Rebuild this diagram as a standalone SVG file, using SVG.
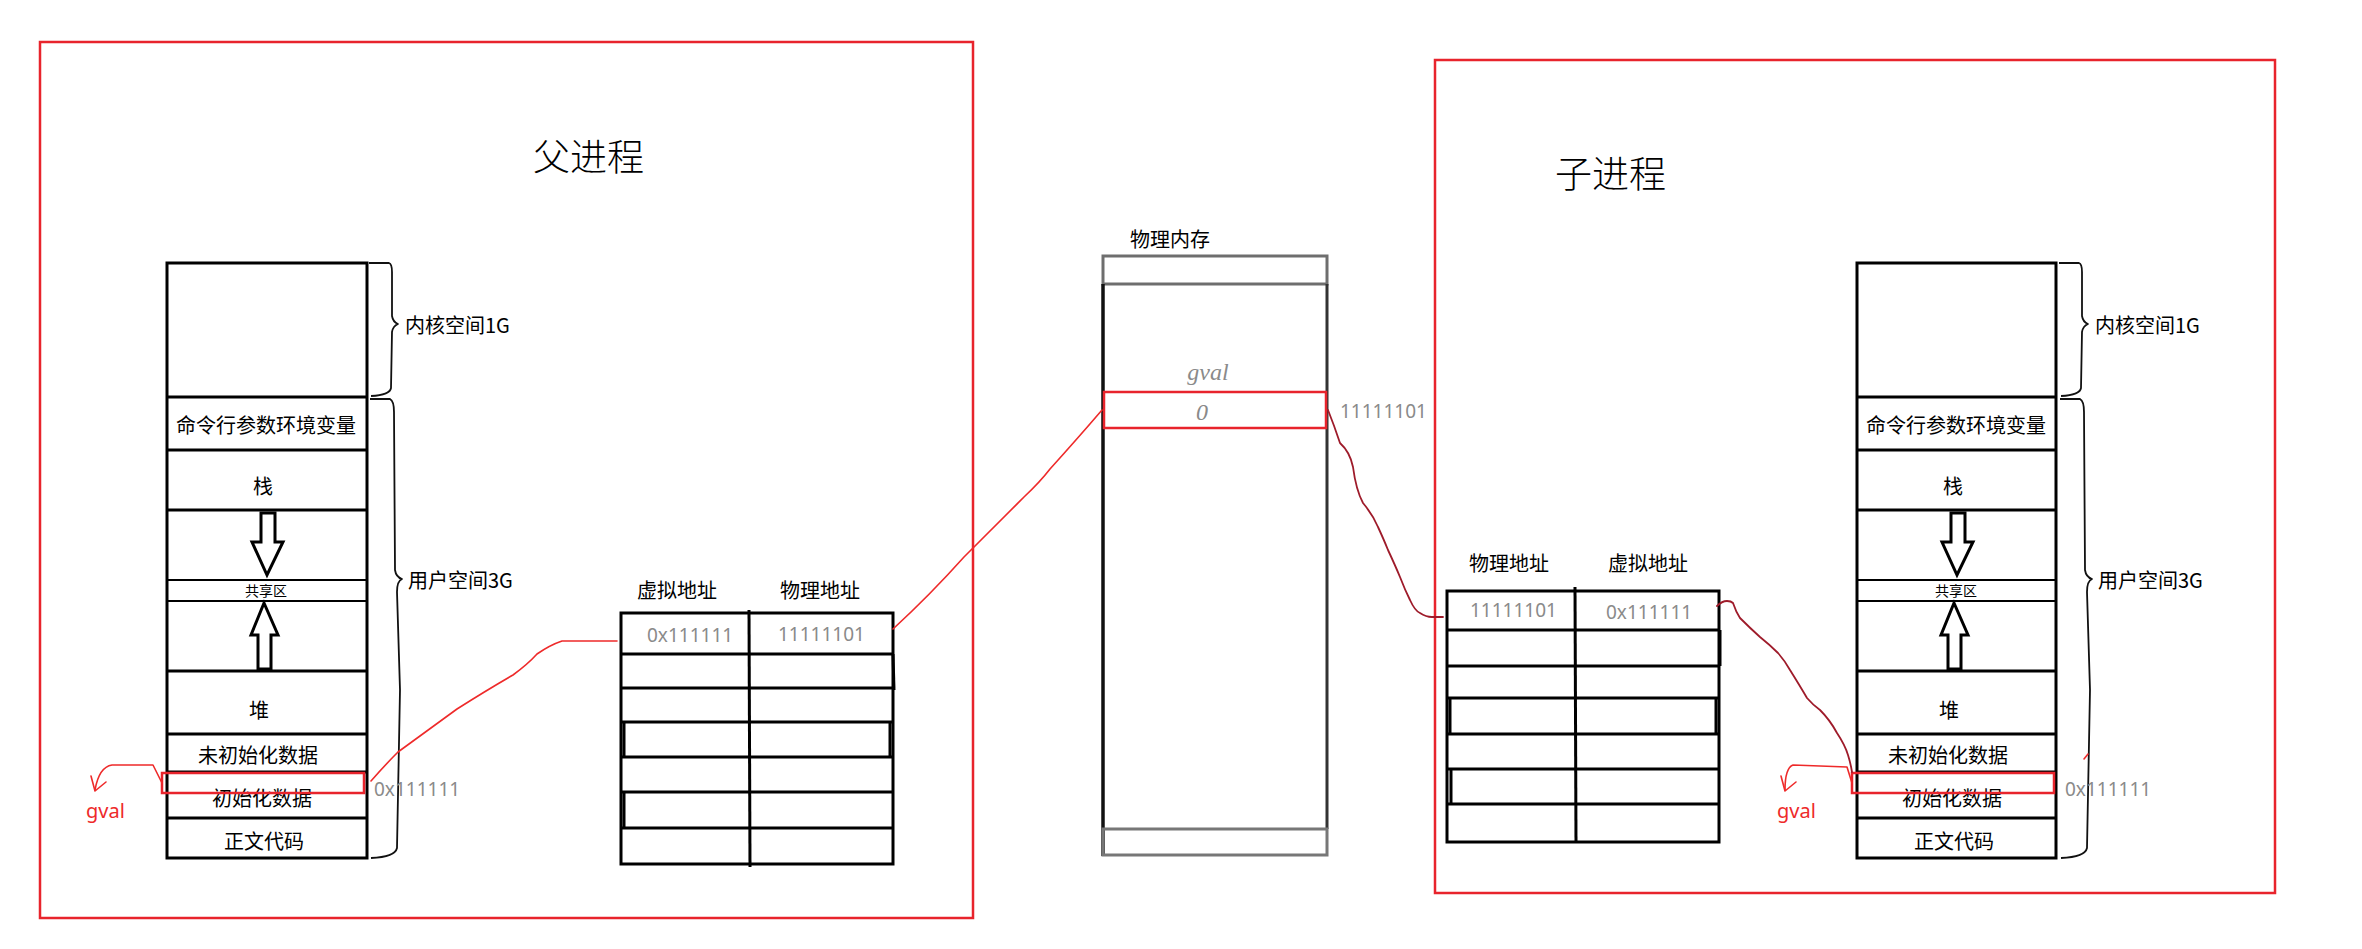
<svg xmlns="http://www.w3.org/2000/svg" width="2362" height="949" viewBox="0 0 2362 949">
<style>
  .frame{fill:none;stroke:#e8242c;stroke-width:2.5}
  .box{fill:none;stroke:#000;stroke-width:3}
  .thin{fill:none;stroke:#000;stroke-width:2}
  .brace{fill:none;stroke:#111;stroke-width:1.8;stroke-linejoin:round}
  .hl{fill:none;stroke:#e8242c;stroke-width:2.5}
  .red{fill:none;stroke:#ee2a2a;stroke-width:1.6;stroke-linejoin:round;stroke-linecap:round}
  .dred{fill:none;stroke:#9e1b2a;stroke-width:1.8;stroke-linejoin:round;stroke-linecap:round}
  .arrow{fill:#fff;stroke:#000;stroke-width:3;stroke-linejoin:miter}
  text{font-family:"Noto Sans CJK SC","Microsoft YaHei",sans-serif;fill:#000}
  .t{font-size:20px;text-anchor:middle;dominant-baseline:central}
  .tl{font-size:20px;dominant-baseline:central}
  .title{font-size:37px;font-weight:300;dominant-baseline:central}
  .small{font-size:14px;text-anchor:middle;dominant-baseline:central}
  .gray{font-family:"Noto Sans","Open Sans",sans-serif;font-size:19px;fill:#8a8a8a;dominant-baseline:central}
  .gvr{font-family:"Noto Sans","Open Sans",sans-serif;font-size:20px;fill:#ee2a2a}
  .hand{font-family:"Liberation Serif",serif;font-style:italic;font-size:24px;fill:#8a8a8a;text-anchor:middle}
</style>

<g id="parent-frame">
  <rect class="frame" x="40" y="42" width="933" height="876"/>
  <text class="title" x="533" y="155">父进程</text>
</g>

<g id="child-frame">
  <rect class="frame" x="1435" y="60" width="840" height="833"/>
  <text class="title" x="1555" y="172">子进程</text>
</g>

<g id="parent-vm">
  <rect class="box" x="167" y="263" width="200" height="595"/>
  <line class="box" x1="167" y1="397" x2="367" y2="397"/>
  <line class="box" x1="167" y1="450" x2="367" y2="450"/>
  <line class="box" x1="167" y1="510" x2="367" y2="510"/>
  <line class="thin" x1="167" y1="580" x2="367" y2="580"/>
  <line class="thin" x1="167" y1="601" x2="367" y2="601"/>
  <line class="box" x1="167" y1="671" x2="367" y2="671"/>
  <line class="box" x1="167" y1="734" x2="367" y2="734"/>
  <line class="box" x1="167" y1="772" x2="367" y2="772"/>
  <line class="box" x1="167" y1="818" x2="367" y2="818"/>
  <path class="arrow" d="M261,513 L275,513 L275,542 L283,542 L267,575 L252,542 L261,542 Z"/>
  <path class="arrow" d="M258,669 L271,669 L271,635 L278,635 L264,603 L251,635 L258,635 Z"/>
  <text class="t" x="266" y="424">命令行参数环境变量</text>
  <text class="t" x="263" y="485">栈</text>
  <text class="small" x="266" y="590">共享区</text>
  <text class="t" x="259" y="709">堆</text>
  <text class="t" x="258" y="754">未初始化数据</text>
  <text class="t" x="262" y="797">初始化数据</text>
  <text class="t" x="264" y="840">正文代码</text>
  <path class="brace" d="M369,263 L389,263 Q392,264 392,272 L392,316 Q393,322 398,324 Q393,326 392,332 L391,388 Q390,395 371,396"/>
  <path class="brace" d="M370,399 L390,399 Q394,401 394,412 L395,570 Q396,577 402,579 Q397,581 397,592 L400,690 L397,848 Q395,857 371,858"/>
  <text class="tl" x="405" y="324">内核空间1G</text>
  <text class="tl" x="408" y="579">用户空间3G</text>
  <rect class="hl" x="162" y="773" width="202" height="20"/>
  <text class="gray" x="374" y="789">0x111111</text>
  <text class="gvr" x="86" y="818">gval</text>
</g>

<g id="child-vm">
  <rect class="box" x="1857" y="263" width="199" height="595"/>
  <line class="box" x1="1857" y1="397" x2="2056" y2="397"/>
  <line class="box" x1="1857" y1="450" x2="2056" y2="450"/>
  <line class="box" x1="1857" y1="510" x2="2056" y2="510"/>
  <line class="thin" x1="1857" y1="580" x2="2056" y2="580"/>
  <line class="thin" x1="1857" y1="601" x2="2056" y2="601"/>
  <line class="box" x1="1857" y1="671" x2="2056" y2="671"/>
  <line class="box" x1="1857" y1="734" x2="2056" y2="734"/>
  <line class="box" x1="1857" y1="772" x2="2056" y2="772"/>
  <line class="box" x1="1857" y1="818" x2="2056" y2="818"/>
  <path class="arrow" d="M1951,513 L1965,513 L1965,542 L1973,542 L1957,575 L1942,542 L1951,542 Z"/>
  <path class="arrow" d="M1948,669 L1961,669 L1961,635 L1968,635 L1954,603 L1941,635 L1948,635 Z"/>
  <text class="t" x="1956" y="424">命令行参数环境变量</text>
  <text class="t" x="1953" y="485">栈</text>
  <text class="small" x="1956" y="590">共享区</text>
  <text class="t" x="1949" y="709">堆</text>
  <text class="t" x="1948" y="754">未初始化数据</text>
  <text class="t" x="1952" y="797">初始化数据</text>
  <text class="t" x="1954" y="840">正文代码</text>
  <path class="brace" d="M2059,263 L2079,263 Q2082,264 2082,272 L2082,316 Q2083,322 2088,324 Q2083,326 2082,332 L2081,388 Q2080,395 2061,396"/>
  <path class="brace" d="M2060,399 L2080,399 Q2084,401 2084,412 L2085,570 Q2086,577 2092,579 Q2087,581 2087,592 L2090,690 L2087,848 Q2085,857 2061,858"/>
  <text class="tl" x="2095" y="324">内核空间1G</text>
  <text class="tl" x="2098" y="579">用户空间3G</text>
  <rect class="hl" x="1852" y="773" width="202" height="20"/>
  <text class="gray" x="2065" y="789">0x111111</text>
  <line class="red" x1="2084" y1="759" x2="2088" y2="754"/>
  <text class="gvr" x="1777" y="818">gval</text>
</g>

<g id="parent-table">
  <text class="t" x="677" y="589">虚拟地址</text>
  <text class="t" x="820" y="589">物理地址</text>
  <rect class="box" x="621" y="613" width="272" height="251"/>
  <line class="box" x1="621" y1="654" x2="893" y2="654"/>
  <line class="box" x1="621" y1="688" x2="893" y2="688"/>
  <line class="box" x1="621" y1="722" x2="893" y2="722"/>
  <line class="box" x1="621" y1="757" x2="893" y2="757"/>
  <line class="box" x1="621" y1="792" x2="893" y2="792"/>
  <line class="box" x1="621" y1="828" x2="893" y2="828"/>
  <line class="box" x1="749" y1="610" x2="750" y2="867"/>
  <line class="box" x1="893" y1="654" x2="894" y2="690"/>
  <line class="box" x1="624" y1="722" x2="624" y2="757"/>
  <line class="box" x1="890" y1="722" x2="890" y2="757"/>
  <line class="box" x1="624" y1="792" x2="624" y2="828"/>
  <text class="gray" x="647" y="635">0x111111</text>
  <text class="gray" x="778" y="634">11111101</text>
</g>

<g id="child-table">
  <text class="t" x="1509" y="562">物理地址</text>
  <text class="t" x="1648" y="562">虚拟地址</text>
  <rect class="box" x="1447" y="591" width="272" height="251"/>
  <line class="box" x1="1447" y1="630" x2="1719" y2="630"/>
  <line class="box" x1="1447" y1="666" x2="1719" y2="666"/>
  <line class="box" x1="1447" y1="698" x2="1719" y2="698"/>
  <line class="box" x1="1447" y1="734" x2="1719" y2="734"/>
  <line class="box" x1="1447" y1="769" x2="1719" y2="769"/>
  <line class="box" x1="1447" y1="804" x2="1719" y2="804"/>
  <line class="box" x1="1575" y1="587" x2="1576" y2="843"/>
  <line class="box" x1="1720" y1="630" x2="1720" y2="666"/>
  <line class="box" x1="1450" y1="698" x2="1450" y2="734"/>
  <line class="box" x1="1716" y1="698" x2="1716" y2="734"/>
  <line class="box" x1="1451" y1="769" x2="1451" y2="804"/>
  <text class="gray" x="1470" y="610">11111101</text>
  <text class="gray" x="1606" y="612">0x111111</text>
</g>

<g id="phys-mem">
  <text class="tl" x="1130" y="238">物理内存</text>
  <rect fill="none" stroke="#6e6e6e" stroke-width="3" x="1103" y="256" width="224" height="28"/>
  <line stroke="#111" stroke-width="3.5" x1="1103" y1="284" x2="1103" y2="856"/>
  <line stroke="#333" stroke-width="3" x1="1327" y1="284" x2="1327" y2="829"/>
  <rect fill="none" stroke="#777" stroke-width="3" x="1103" y="829" width="224" height="26"/>
  <rect class="hl" x="1104" y="392" width="222" height="36"/>
  <text class="hand" x="1208" y="380">gval</text>
  <text class="hand" x="1202" y="420">0</text>
  <text class="gray" x="1340" y="411">11111101</text>
</g>

<g id="connectors">
  <path class="red" d="M371,781 Q385,765 398,752 Q428,730 457,709 Q487,690 513,675 Q528,664 537,654 Q550,645 562,641 L617,641"/>
  <path class="red" d="M893,629 Q930,595 964,557 Q996,525 1024,497 Q1040,482 1050,469 Q1078,438 1102,410"/>
  <path class="dred" d="M1328,410 Q1334,425 1340,443 Q1350,452 1353,467 Q1356,490 1363,503 Q1373,515 1378,527 Q1384,540 1388,550 Q1395,565 1400,577 Q1405,590 1410,600 Q1415,611 1420,613 Q1426,617 1432,617 L1443,617"/>
  <path class="dred" d="M1717,606 Q1722,601 1727,601 Q1731,601 1733,603 Q1736,612 1740,618 Q1750,628 1760,637 Q1770,645 1778,653 Q1785,661 1790,670 Q1800,686 1807,698 Q1813,705 1820,710 Q1830,720 1837,733 Q1845,745 1848,755 Q1851,765 1852,772"/>
  <path class="red" d="M162,783 L153,765 L112,765 Q99,767 95,790"/>
  <path class="red" d="M91,776 L95,791 L106,782"/>
  <path class="red" d="M1852,783 L1847,767 L1793,765 Q1785,768 1785,790"/>
  <path class="red" d="M1781,776 L1785,791 L1796,782"/>
</g>
</svg>
